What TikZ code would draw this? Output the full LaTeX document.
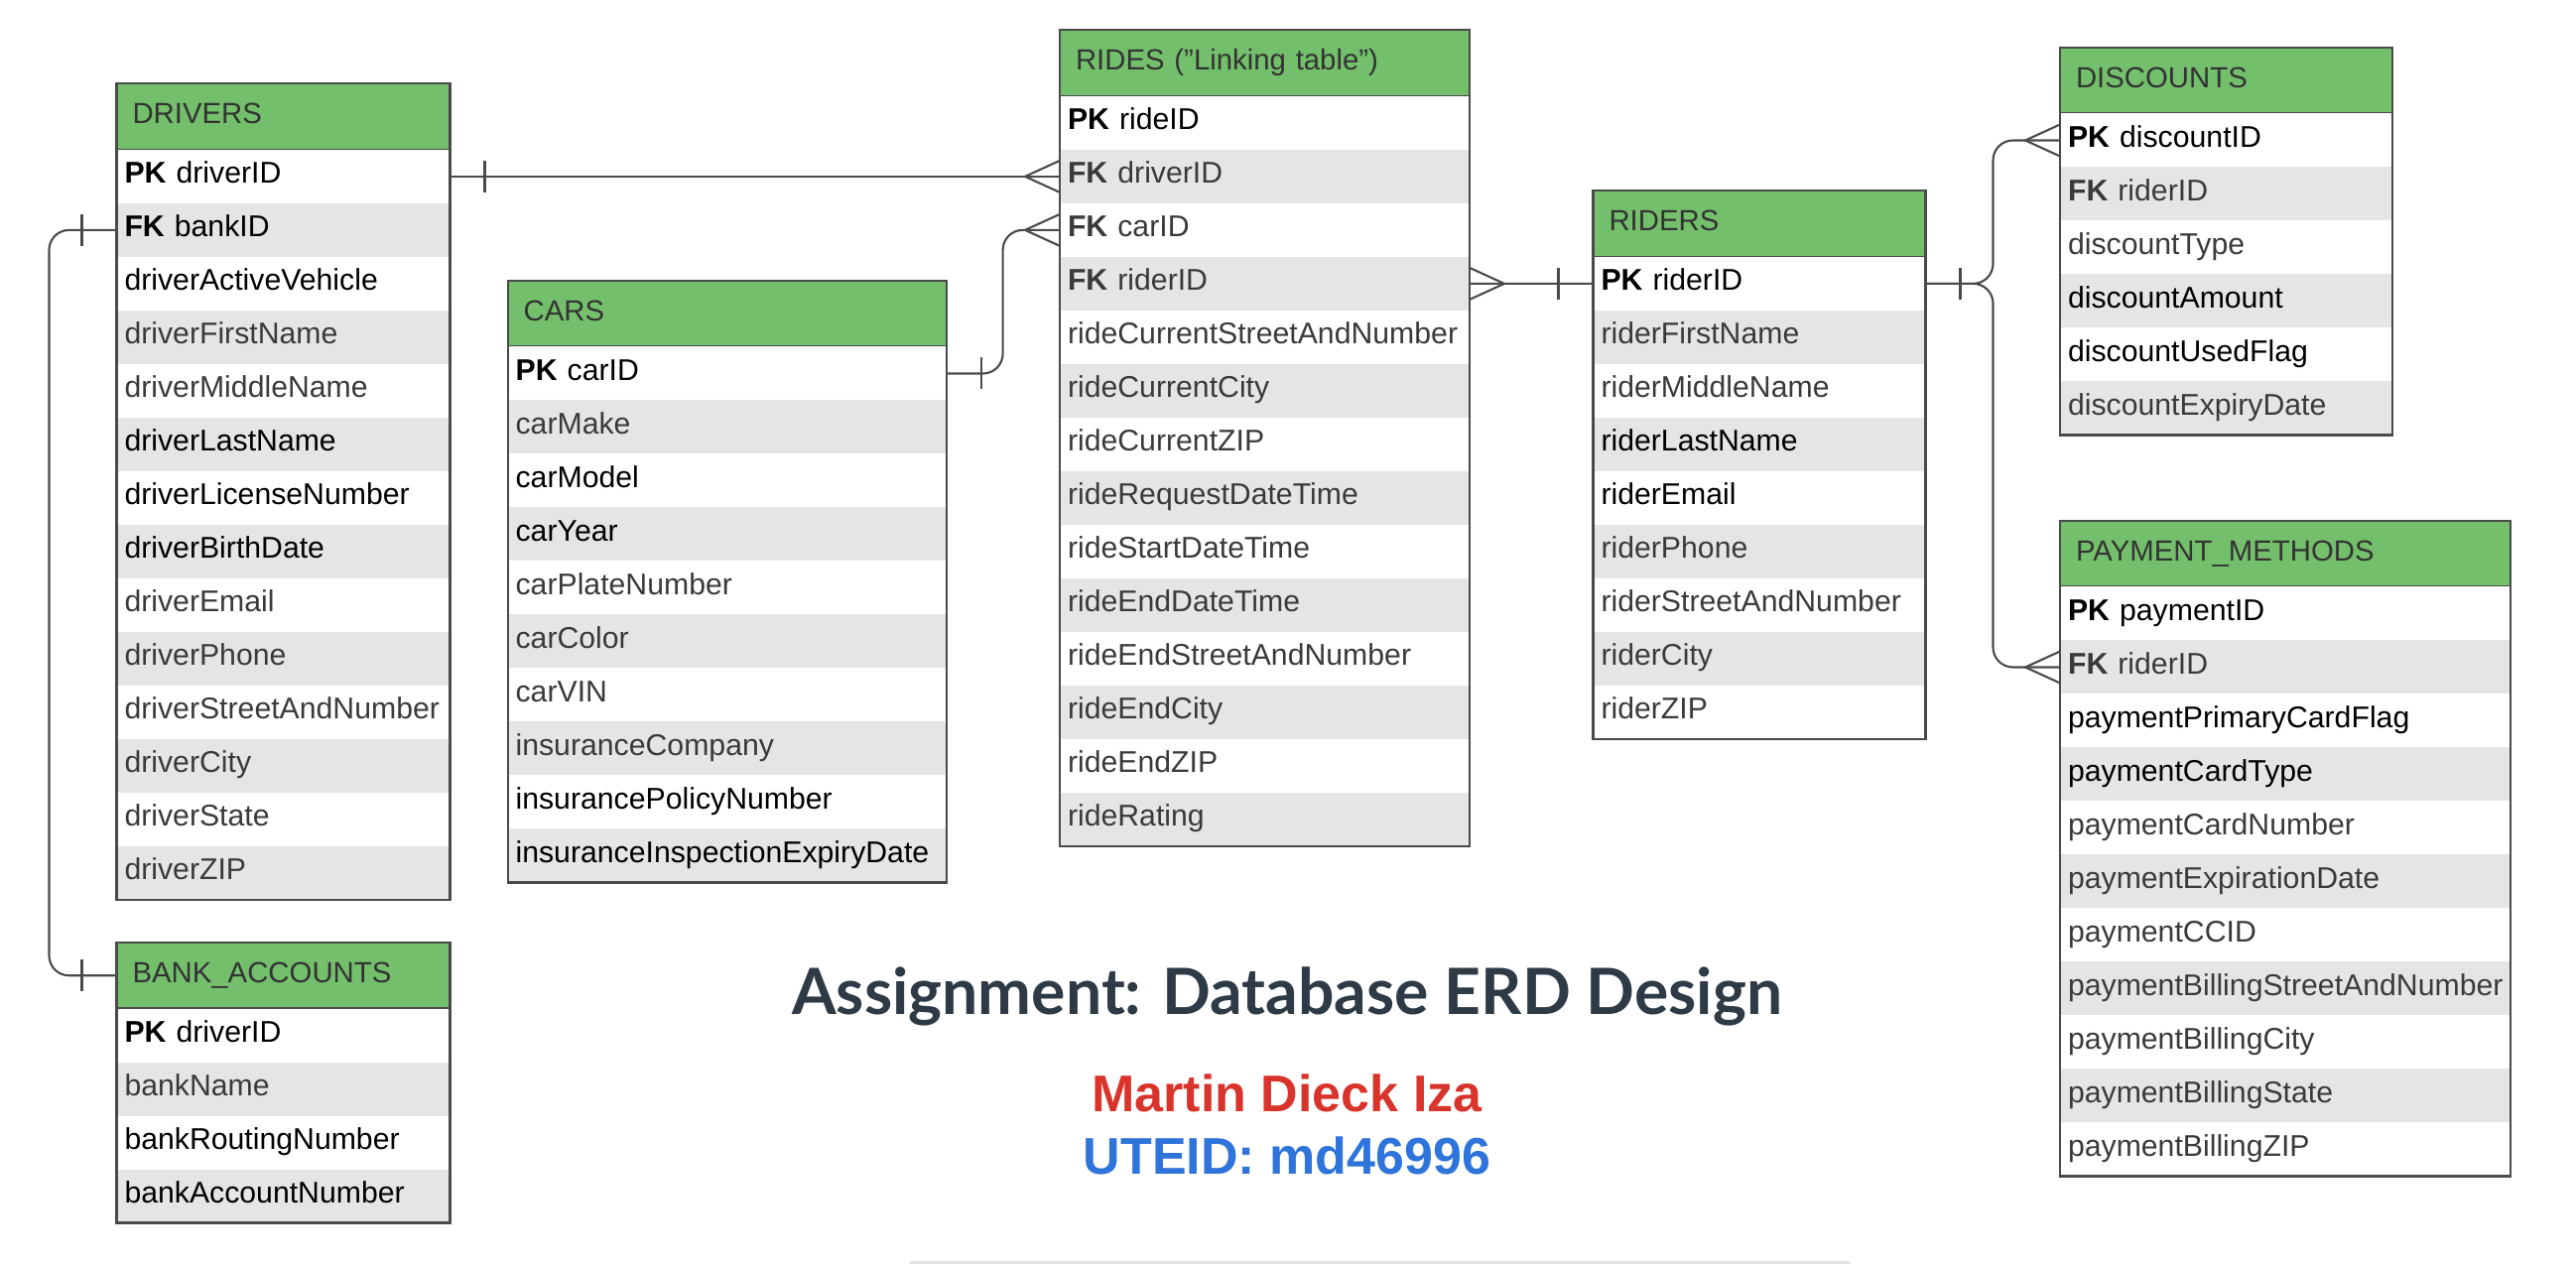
\documentclass[tikz,border=0pt]{standalone}
\usepackage{fontspec}
\setmainfont{Liberation Sans}
\newfontfamily\titlefont{Lato}
\usepackage{tikz}
\usetikzlibrary{positioning}
\definecolor{HeadGreen}{HTML}{73BF6B}
\definecolor{RowGray}{HTML}{E5E5E5}
\definecolor{LineGray}{HTML}{4A4A4A}
\definecolor{TextGray}{HTML}{3A3A3A}
\definecolor{HeadText}{HTML}{333333}
\definecolor{TitleSlate}{HTML}{2E3A45}
\definecolor{NameRed}{HTML}{D9342B}
\definecolor{IdBlue}{HTML}{2F74DB}
\definecolor{RuleGray}{HTML}{E2E2E8}
\newcommand{\Blk}{\color{black}}

\begin{document}
\begin{tikzpicture}[
  tblhead/.style = {rectangle, draw=LineGray, line width=0.6pt, fill=HeadGreen,
    anchor=north west, outer sep=0pt, minimum height=0.665cm,
    inner xsep=0.16cm, inner ysep=0pt, text width=#1, align=left,
    text height=6.5pt, text depth=2.5pt, text=HeadText,
    font=\fontsize{8.35}{10}\selectfont},
  tblrow/.style  = {rectangle, outer sep=0pt, minimum height=0.54cm,
    inner xsep=0.08cm, inner ysep=0pt, text width=#1, align=left,
    text height=6.5pt, text depth=2.5pt, text=TextGray,
    font=\fontsize{8.6}{10}\selectfont},
  tblframe/.style = {draw=LineGray, line width=0.6pt},
  conn/.style     = {draw=LineGray, line width=0.6pt},
  onebar/.pic     = {\draw[conn] (0.35,0.16) -- (0.35,-0.16);},
  crowfoot/.pic   = {\draw[conn] (0,0.16) -- (-0.35,0) -- (0,-0.16);},
]

\path[use as bounding box, fill=white] (0,0) rectangle (25.96,-12.74);

% DRIVERS
\node[tblhead=3.04cm] (drv-h) at (1.175,-0.844) {DRIVERS};
\foreach \f [count=\i, remember=\i as \j (initially h)] in {
    {\Blk\textbf{PK} driverID}, {\Blk\textbf{FK} bankID}, {\Blk driverActiveVehicle},
    driverFirstName, driverMiddleName, {\Blk driverLastName},
    {\Blk driverLicenseNumber}, {\Blk driverBirthDate}, driverEmail, driverPhone,
    driverStreetAndNumber, driverCity, driverState, driverZIP} {
  \ifodd\i\relax \def\rowfill{white}\else \def\rowfill{RowGray}\fi
  \node[tblrow=3.2cm, fill=\rowfill, below=0pt of drv-\j] (drv-\i) {\f};
}
\draw[tblframe] (drv-h.north west) rectangle (drv-14.south east);

% BANK_ACCOUNTS
\node[tblhead=3.04cm] (bnk-h) at (1.175,-9.50) {BANK\_ACCOUNTS};
\foreach \f [count=\i, remember=\i as \j (initially h)] in {
    {\Blk\textbf{PK} driverID}, bankName, {\Blk bankRoutingNumber},
    {\Blk bankAccountNumber}} {
  \ifodd\i\relax \def\rowfill{white}\else \def\rowfill{RowGray}\fi
  \node[tblrow=3.2cm, fill=\rowfill, below=0pt of bnk-\j] (bnk-\i) {\f};
}
\draw[tblframe] (bnk-h.north west) rectangle (bnk-4.south east);

% CARS
\node[tblhead=4.10cm] (car-h) at (5.116,-2.83) {CARS};
\foreach \f [count=\i, remember=\i as \j (initially h)] in {
    {\Blk\textbf{PK} carID}, carMake, {\Blk carModel}, {\Blk carYear},
    carPlateNumber, carColor, carVIN, insuranceCompany,
    {\Blk insurancePolicyNumber}, {\Blk insuranceInspectionExpiryDate}} {
  \ifodd\i\relax \def\rowfill{white}\else \def\rowfill{RowGray}\fi
  \node[tblrow=4.26cm, fill=\rowfill, below=0pt of car-\j] (car-\i) {\f};
}
\draw[tblframe] (car-h.north west) rectangle (car-10.south east);

% RIDES (linking table)
\node[tblhead=3.81cm] (rds-h) at (10.68,-0.304)
     {RIDES (\symbol{34}Linking table\symbol{34})};
\foreach \f [count=\i, remember=\i as \j (initially h)] in {
    {\Blk\textbf{PK} rideID}, {\textbf{FK} driverID}, {\textbf{FK} carID},
    {\textbf{FK} riderID}, rideCurrentStreetAndNumber, rideCurrentCity,
    rideCurrentZIP, rideRequestDateTime, rideStartDateTime, rideEndDateTime,
    rideEndStreetAndNumber, rideEndCity, rideEndZIP, rideRating} {
  \ifodd\i\relax \def\rowfill{white}\else \def\rowfill{RowGray}\fi
  \node[tblrow=3.97cm, fill=\rowfill, below=0pt of rds-\j] (rds-\i) {\f};
}
\draw[tblframe] (rds-h.north west) rectangle (rds-14.south east);

% RIDERS
\node[tblhead=3.03cm] (rdr-h) at (16.055,-1.924) {RIDERS};
\foreach \f [count=\i, remember=\i as \j (initially h)] in {
    {\Blk\textbf{PK} riderID}, riderFirstName, riderMiddleName,
    {\Blk riderLastName}, {\Blk riderEmail}, riderPhone,
    riderStreetAndNumber, riderCity, riderZIP} {
  \ifodd\i\relax \def\rowfill{white}\else \def\rowfill{RowGray}\fi
  \node[tblrow=3.19cm, fill=\rowfill, below=0pt of rdr-\j] (rdr-\i) {\f};
}
\draw[tblframe] (rdr-h.north west) rectangle (rdr-9.south east);

% DISCOUNTS
\node[tblhead=3.03cm] (dsc-h) at (20.76,-0.48) {DISCOUNTS};
\foreach \f [count=\i, remember=\i as \j (initially h)] in {
    {\Blk\textbf{PK} discountID}, {\textbf{FK} riderID}, discountType,
    {\Blk discountAmount}, {\Blk discountUsedFlag}, discountExpiryDate} {
  \ifodd\i\relax \def\rowfill{white}\else \def\rowfill{RowGray}\fi
  \node[tblrow=3.19cm, fill=\rowfill, below=0pt of dsc-\j] (dsc-\i) {\f};
}
\draw[tblframe] (dsc-h.north west) rectangle (dsc-6.south east);

% PAYMENT_METHODS
\node[tblhead=4.22cm] (pay-h) at (20.76,-5.25) {PAYMENT\_METHODS};
\foreach \f [count=\i, remember=\i as \j (initially h)] in {
    {\Blk\textbf{PK} paymentID}, {\textbf{FK} riderID},
    {\Blk paymentPrimaryCardFlag}, {\Blk paymentCardType}, paymentCardNumber,
    paymentExpirationDate, paymentCCID, paymentBillingStreetAndNumber,
    paymentBillingCity, paymentBillingState, paymentBillingZIP} {
  \ifodd\i\relax \def\rowfill{white}\else \def\rowfill{RowGray}\fi
  \node[tblrow=4.38cm, fill=\rowfill, below=0pt of pay-\j] (pay-\i) {\f};
}
\draw[tblframe] (pay-h.north west) rectangle (pay-11.south east);

% Relationships
\draw[conn] (drv-1.east) -- (rds-2.west);
\pic at (drv-1.east) {onebar};
\pic at (rds-2.west) {crowfoot};

\draw[conn, rounded corners=0.2cm] (car-1.east) -- ++(0.57,0) |- (rds-3.west);
\pic at (car-1.east) {onebar};
\pic at (rds-3.west) {crowfoot};

\draw[conn] (rds-4.east) -- (rdr-1.west);
\pic[xscale=-1] at (rds-4.east) {crowfoot};
\pic[xscale=-1] at (rdr-1.west) {onebar};

\draw[conn, rounded corners=0.2cm] (rdr-1.east) -- ++(0.68,0) |- (dsc-1.west);
\draw[conn, rounded corners=0.2cm] (rdr-1.east) -- ++(0.68,0) |- (pay-2.west);
\pic at (rdr-1.east) {onebar};
\pic at (dsc-1.west) {crowfoot};
\pic at (pay-2.west) {crowfoot};

\draw[conn, rounded corners=0.2cm] (drv-2.west) -- ++(-0.68,0) |- (bnk-h.west);
\pic[xscale=-1] at (drv-2.west) {onebar};
\pic[xscale=-1] at (bnk-h.west) {onebar};

% Title block
\node[anchor=base, text=TitleSlate, font=\titlefont\bfseries\fontsize{18.3}{22}\selectfont]
      (title) at (12.97,-10.22) {Assignment: Database ERD Design};
\node[anchor=base, text=NameRed, font=\bfseries\fontsize{14.8}{18}\selectfont]
      (author) at (12.97,-11.20) {Martin Dieck Iza};
\node[anchor=base, text=IdBlue, font=\bfseries\fontsize{14.8}{18}\selectfont]
      (uteid) at (12.97,-11.83) {UTEID: md46996};

\draw[RuleGray, line width=0.03cm] (9.17,-12.725) -- (18.64,-12.725);

\end{tikzpicture}
\end{document}
